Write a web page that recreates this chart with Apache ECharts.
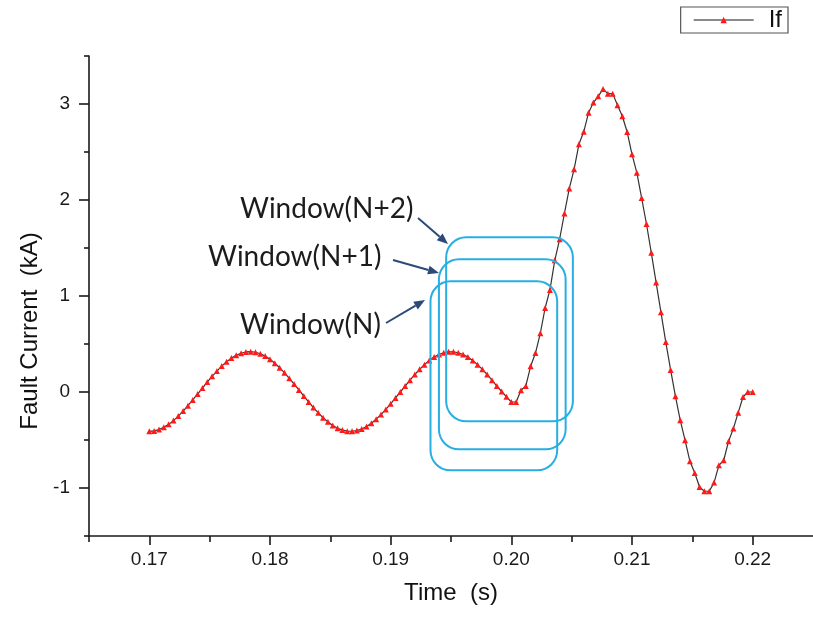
<!DOCTYPE html>
<html>
<head>
<meta charset="utf-8">
<script src="https://cdn.jsdelivr.net/npm/echarts@6/dist/echarts.min.js"></script>
<style>
  html, body { margin: 0; padding: 0; background: #ffffff; }
  #chart { width: 813px; height: 617px; }
</style>
</head>
<body>
<div id="chart"></div>
<script>
// Sample instants (s), 0.4 ms step
const time = [
  0.1700,0.1704,0.1708,0.1712,0.1716,0.1720,0.1724,0.1728,0.1732,0.1736,
  0.1740,0.1744,0.1748,0.1752,0.1756,0.1760,0.1764,0.1768,0.1772,0.1776,
  0.1780,0.1784,0.1788,0.1792,0.1796,0.1800,0.1804,0.1808,0.1812,0.1816,
  0.1820,0.1824,0.1828,0.1832,0.1836,0.1840,0.1844,0.1848,0.1852,0.1856,
  0.1860,0.1864,0.1868,0.1872,0.1876,0.1880,0.1884,0.1888,0.1892,0.1896,
  0.1900,0.1904,0.1908,0.1912,0.1916,0.1920,0.1924,0.1928,0.1932,0.1936,
  0.1940,0.1944,0.1948,0.1952,0.1956,0.1960,0.1964,0.1968,0.1972,0.1976,
  0.1980,0.1984,0.1988,0.1992,0.1996,0.2000,0.2004,0.2008,0.2012,0.2016,
  0.2020,0.2024,0.2028,0.2032,0.2036,0.2040,0.2044,0.2048,0.2052,0.2056,
  0.2060,0.2064,0.2068,0.2072,0.2076,0.2080,0.2084,0.2088,0.2092,0.2096,
  0.2100,0.2104,0.2108,0.2112,0.2116,0.2120,0.2124,0.2128,0.2132,0.2136,
  0.2140,0.2144,0.2148,0.2152,0.2156,0.2160,0.2164,0.2168,0.2172,0.2176,
  0.2180,0.2184,0.2188,0.2192,0.2196,0.2200
];

// Fault current If (kA) at each sample
const faultCurrent = [
  -0.410,-0.405,-0.391,-0.368,-0.337,-0.298,-0.251,-0.199,-0.143,-0.083,
  -0.021, 0.041, 0.103, 0.163, 0.218, 0.270, 0.315, 0.353, 0.383, 0.404,
   0.417, 0.420, 0.414, 0.398, 0.374, 0.341, 0.300, 0.253, 0.200, 0.143,
   0.083, 0.021,-0.042,-0.103,-0.162,-0.217,-0.268,-0.311,-0.348,-0.377,
  -0.397,-0.408,-0.409,-0.402,-0.385,-0.359,-0.325,-0.283,-0.235,-0.181,
  -0.123,-0.062, 0.000, 0.062, 0.123, 0.182, 0.236, 0.285, 0.328, 0.364,
   0.391, 0.409, 0.419, 0.419, 0.409, 0.391, 0.364, 0.328, 0.285, 0.236,
   0.182, 0.123, 0.062, 0.005,-0.050,-0.104,-0.104, 0.018, 0.063, 0.268,
   0.406, 0.611, 0.875, 1.063, 1.372, 1.591, 1.860, 2.119, 2.320, 2.580,
   2.710, 2.910, 3.015, 3.080, 3.156, 3.108, 3.108, 2.987, 2.872, 2.708,
   2.476, 2.285, 2.020, 1.750, 1.450, 1.140, 0.830, 0.520, 0.230,-0.045,
  -0.295,-0.503,-0.722,-0.844,-0.990,-1.034,-1.034,-0.944,-0.764,-0.711,
  -0.514,-0.381,-0.215,-0.052, 0.000, 0.000
];

// Axis ticks
const xMajorTicks = [0.17, 0.18, 0.19, 0.20, 0.21, 0.22];
const xMinorTicks = [0.165, 0.175, 0.185, 0.195, 0.205, 0.215];
const yMajorTicks = [-1, 0, 1, 2, 3];
const yMinorTicks = [-1.5, -0.5, 0.5, 1.5, 2.5, 3.5];

// Sliding data windows (time span in s, current span in kA)
const windowLabels = ['Window(N)', 'Window(N+1)', 'Window(N+2)'];
const windowStart  = [0.1933, 0.1940, 0.1946];
const windowEnd    = [0.2038, 0.2045, 0.2051];
const windowTop    = [1.153, 1.382, 1.611];
const windowBottom = [-0.816, -0.597, -0.305];

const AXIS_COLOR = '#1a1a1a';
const TEXT_FONT = 'Liberation Sans';

const chart = echarts.init(document.getElementById('chart'), null, { renderer: 'canvas' });

function baseX(extra) {
  return Object.assign({
    type: 'value', min: 0.165, max: 0.225, position: 'bottom',
    splitLine: { show: false }
  }, extra);
}
function baseY(extra) {
  return Object.assign({
    type: 'value', min: -1.5, max: 3.5, position: 'left',
    splitLine: { show: false }
  }, extra);
}

chart.setOption({
  animation: false,
  backgroundColor: '#ffffff',
  grid: { left: 89, top: 56, right: -4, bottom: 81 },
  legend: {
    data: ['If'],
    right: 25, top: 7,
    padding: [1, 6, 1, 12],
    borderColor: '#555555', borderWidth: 1.2,
    itemWidth: 60, itemHeight: 8,
    lineStyle: { color: '#8a8a8a', width: 2 },
    textStyle: { fontFamily: TEXT_FONT, fontSize: 24, color: '#111', padding: [0, 2, 0, 10] }
  },
  xAxis: [
    baseX({
      name: 'Time  (s)', nameLocation: 'middle', nameGap: 45,
      nameTextStyle: { fontFamily: TEXT_FONT, fontSize: 24, color: '#111' },
      axisLine: { show: true, onZero: false, lineStyle: { color: AXIS_COLOR, width: 1.6 } },
      axisTick: { show: true, customValues: xMajorTicks, length: 9, lineStyle: { color: AXIS_COLOR, width: 1.6 } },
      axisLabel: {
        customValues: xMajorTicks, margin: 14,
        fontFamily: TEXT_FONT, fontSize: 19, color: '#1a1a1a',
        formatter: v => v.toFixed(2)
      }
    }),
    baseX({
      axisLine: { show: false, onZero: false },
      axisTick: { show: true, customValues: xMinorTicks, length: 6, lineStyle: { color: AXIS_COLOR, width: 1.6 } },
      axisLabel: { show: false }
    })
  ],
  yAxis: [
    baseY({
      name: 'Fault Current  (kA)', nameLocation: 'middle', nameGap: 46,
      nameTextStyle: { fontFamily: TEXT_FONT, fontSize: 24, color: '#111', padding: [0, 70, 0, 0] },
      axisLine: { show: true, onZero: false, lineStyle: { color: AXIS_COLOR, width: 1.6 } },
      axisTick: { show: true, customValues: yMajorTicks, length: 10, lineStyle: { color: AXIS_COLOR, width: 1.6 } },
      axisLabel: {
        customValues: yMajorTicks, margin: 19,
        fontFamily: TEXT_FONT, fontSize: 19, color: '#1a1a1a'
      }
    }),
    baseY({
      axisLine: { show: false, onZero: false },
      axisTick: { show: true, customValues: yMinorTicks, length: 5, lineStyle: { color: AXIS_COLOR, width: 1.6 } },
      axisLabel: { show: false }
    })
  ],
  series: [{
    name: 'If',
    type: 'line',
    xAxisIndex: 0, yAxisIndex: 0,
    data: time.map((t, i) => [t, faultCurrent[i]]),
    showSymbol: true,
    symbol: 'triangle',
    symbolSize: 6,
    itemStyle: { color: '#ff1a1a' },
    lineStyle: { color: '#333333', width: 1.2 },
    z: 3
  }]
});

// Window boxes, labels and arrows
function arrow(x1, y1, x2, y2, color) {
  const ang = Math.atan2(y2 - y1, x2 - x1);
  const L = 11, W = 4.5;
  const bx = x2 - L * Math.cos(ang), by = y2 - L * Math.sin(ang);
  const nx = -Math.sin(ang), ny = Math.cos(ang);
  return [
    { type: 'line', z: 20, shape: { x1, y1, x2: bx, y2: by }, style: { stroke: color, lineWidth: 2 } },
    { type: 'polygon', z: 20, shape: { points: [[x2, y2], [bx + nx * W, by + ny * W], [bx - nx * W, by - ny * W]] }, style: { fill: color } }
  ];
}

const graphics = [];
for (let i = 0; i < windowLabels.length; i++) {
  const p0 = chart.convertToPixel({ gridIndex: 0 }, [windowStart[i], windowTop[i]]);
  const p1 = chart.convertToPixel({ gridIndex: 0 }, [windowEnd[i], windowBottom[i]]);
  graphics.push({
    type: 'rect', z: 15,
    shape: { x: p0[0], y: p0[1], width: p1[0] - p0[0], height: p1[1] - p0[1], r: 20 },
    style: { fill: null, stroke: '#27aee3', lineWidth: 2 }
  });
}

const labelFont = '28px Lato';
const labelPos = [[240, 328], [208, 260], [240, 212]];
for (let i = 0; i < windowLabels.length; i++) {
  graphics.push({
    type: 'text', z: 20, left: labelPos[i][0], top: labelPos[i][1] - 17,
    style: { text: windowLabels[i], font: labelFont, fill: '#1c1c1c' }
  });
}
const ARROW_COLOR = '#2b4a78';
graphics.push(...arrow(386, 323, 425, 300, ARROW_COLOR));
graphics.push(...arrow(393, 260, 439, 273, ARROW_COLOR));
graphics.push(...arrow(418, 218, 448, 244, ARROW_COLOR));

chart.setOption({ graphic: graphics });
</script>
</body>
</html>
